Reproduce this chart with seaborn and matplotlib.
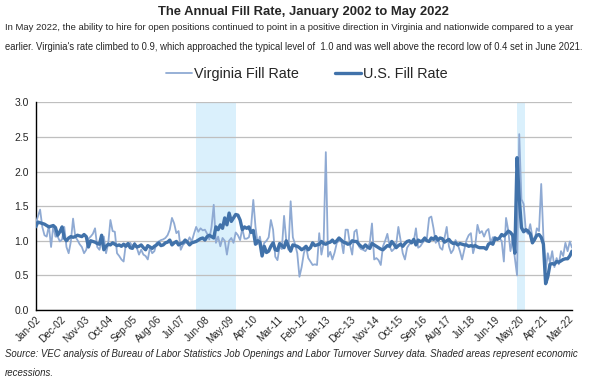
import numpy as np
import pandas as pd
import matplotlib
matplotlib.use("Agg")
import matplotlib.pyplot as plt
import seaborn as sns

# ---- data (monthly, Jan 2002 .. May 2022) ----
months = pd.date_range("2002-01-01", "2022-05-01", freq="MS")
month_labels = [d.strftime("%b-%y") for d in months]

us_rate = [
    # 2002
    1.20, 1.27, 1.26, 1.25, 1.24, 1.22, 1.20, 1.21, 1.22, 1.19, 1.08, 1.13,
    # 2003
    1.20, 1.04, 1.00, 1.04, 1.06, 1.05, 1.06, 1.08, 1.07, 1.06, 1.09, 1.06,
    # 2004
    0.91, 1.00, 0.99, 0.98, 0.96, 0.95, 1.08, 0.87, 0.92, 0.95, 0.94, 0.97,
    # 2005
    0.95, 0.93, 0.94, 0.92, 0.95, 0.92, 0.96, 0.90, 0.89, 0.95, 0.91, 0.92,
    # 2006
    0.94, 0.90, 0.87, 0.93, 0.91, 0.89, 0.92, 0.94, 0.97, 0.93, 0.94, 0.97,
    # 2007
    0.98, 1.01, 0.94, 0.97, 0.99, 0.94, 0.96, 0.97, 1.01, 0.98, 0.94, 0.97,
    # 2008
    0.98, 0.99, 1.01, 1.03, 1.04, 1.01, 1.06, 1.08, 1.06, 1.04, 1.20, 1.16,
    # 2009
    1.23, 1.18, 1.33, 1.23, 1.40, 1.28, 1.33, 1.38, 1.37, 1.30, 1.16, 1.20,
    # 2010
    1.18, 1.20, 1.12, 1.15, 0.95, 1.00, 0.98, 0.78, 0.92, 0.83, 0.85, 0.92,
    # 2011
    0.97, 0.87, 0.86, 0.96, 0.93, 0.90, 1.00, 0.92, 0.85, 0.94, 0.93, 0.92,
    # 2012
    0.90, 0.87, 0.89, 0.92, 0.87, 0.90, 0.97, 0.93, 0.94, 0.95, 0.99, 0.96,
    # 2013
    0.95, 0.97, 0.98, 1.01, 0.97, 1.00, 1.04, 1.01, 0.98, 0.97, 0.95, 0.96,
    # 2014
    1.00, 0.99, 0.99, 0.95, 0.92, 0.90, 0.94, 0.91, 0.89, 0.96, 0.94, 0.92,
    # 2015
    0.90, 0.88, 0.87, 0.90, 0.93, 0.92, 0.99, 0.95, 0.90, 0.93, 0.95, 0.92,
    # 2016
    0.96, 0.99, 1.00, 0.97, 1.02, 0.94, 1.01, 0.99, 1.00, 1.04, 1.00, 0.99,
    # 2017
    1.04, 1.02, 1.06, 1.01, 1.04, 1.03, 0.98, 1.00, 1.02, 0.98, 0.96, 0.97,
    # 2018
    0.94, 0.96, 0.95, 0.94, 0.94, 0.92, 0.93, 0.92, 0.93, 0.91, 0.90, 0.90,
    # 2019
    0.90, 0.88, 0.95, 0.97, 0.95, 1.04, 1.02, 1.04, 1.09, 1.07, 1.10, 1.14,
    # 2020
    1.12, 1.08, 0.82, 2.20, 1.62, 1.19, 1.13, 1.16, 1.14, 1.10, 0.97, 1.02,
    # 2021
    1.08, 1.09, 1.05, 0.95, 0.38, 0.48, 0.66, 0.67, 0.66, 0.70, 0.69, 0.71,
    # 2022
    0.73, 0.74, 0.74, 0.78, 0.85,
]

va_rate = [
    # 2002
    1.25, 1.35, 1.45, 1.20, 1.08, 1.06, 1.22, 0.91, 1.22, 1.06, 1.06, 0.99,
    # 2003
    1.02, 1.20, 0.91, 0.82, 0.99, 1.32, 1.06, 1.01, 0.95, 0.91, 0.82, 0.87,
    # 2004
    1.03, 1.06, 1.10, 1.18, 0.91, 0.87, 0.99, 1.06, 0.82, 0.96, 1.30, 1.14,
    # 2005
    1.13, 0.82, 0.78, 0.73, 0.70, 0.95, 0.92, 0.97, 0.92, 0.97, 0.90, 0.80,
    # 2006
    0.87, 0.80, 0.78, 0.73, 0.90, 0.82, 0.85, 0.97, 0.99, 1.01, 1.02, 1.04,
    # 2007
    1.08, 1.16, 1.33, 1.25, 1.11, 1.14, 0.87, 0.94, 0.97, 0.98, 1.05, 0.99,
    # 2008
    1.10, 1.20, 1.13, 1.18, 1.15, 1.16, 1.10, 1.02, 1.20, 1.52, 0.97, 1.06,
    # 2009
    0.92, 1.04, 1.00, 0.80, 1.00, 1.04, 0.97, 1.12, 1.08, 1.01, 1.18, 1.03,
    # 2010
    1.03, 1.05, 1.20, 1.59, 1.20, 0.95, 1.06, 0.87, 0.97, 1.00, 1.05, 1.30,
    # 2011
    1.16, 0.77, 0.72, 0.92, 0.88, 1.36, 1.00, 0.87, 1.57, 1.05, 0.95, 0.82,
    # 2012
    0.48, 0.62, 0.82, 0.92, 0.75, 0.70, 0.65, 0.66, 0.65, 1.11, 0.80, 0.97,
    # 2013
    2.28, 0.77, 0.84, 0.73, 0.83, 0.97, 1.00, 1.01, 0.82, 1.16, 1.16, 0.94,
    # 2014
    0.80, 1.13, 1.16, 0.92, 0.88, 0.87, 0.85, 0.90, 0.97, 1.25, 0.73, 0.75,
    # 2015
    0.72, 0.65, 0.92, 1.00, 1.10, 0.92, 0.85, 0.88, 0.94, 1.20, 1.01, 0.82,
    # 2016
    0.73, 0.90, 0.95, 0.97, 0.99, 1.18, 0.90, 0.92, 0.97, 1.01, 1.04, 1.33,
    # 2017
    1.35, 1.18, 0.97, 1.02, 0.90, 0.87, 1.04, 1.20, 0.92, 0.82, 0.87, 1.01,
    # 2018
    0.95, 0.85, 0.73, 0.87, 1.01, 1.08, 1.11, 0.82, 0.94, 1.23, 1.11, 1.14,
    # 2019
    1.06, 1.14, 1.17, 0.97, 1.05, 1.05, 1.02, 1.03, 1.00, 0.70, 1.33, 1.15,
    # 2020
    0.85, 1.04, 0.75, 0.50, 2.54, 1.60, 1.53, 1.14, 1.10, 1.24, 1.05, 1.00,
    # 2021
    1.18, 1.14, 1.82, 1.05, 0.56, 0.82, 0.68, 0.85, 0.62, 0.75, 0.66, 0.85,
    # 2022
    0.78, 0.97, 0.85, 0.99, 0.90,
]

# recession shading (in month-index units, as drawn)
recessions = [(72.9, 91.0), (218.8, 222.5)]

title = "The Annual Fill Rate, January 2002 to May 2022"
subtitle1 = ("In May 2022, the ability to hire for open positions continued to point in a positive "
             "direction in Virginia and nationwide compared to a year")
subtitle2 = ("earlier. Virginia's rate climbed to 0.9, which approached the typical level of  1.0 "
             "and was well above the record low of 0.4 set in June 2021.")
source1 = ("Source: VEC analysis of Bureau of Labor Statistics Job Openings and Labor Turnover "
           "Survey data. Shaded areas represent economic")
source2 = "recessions."

# ---- build frame ----
df = pd.DataFrame({
    "idx": np.arange(len(months)),
    "Virginia Fill Rate": va_rate,
    "U.S. Fill Rate": us_rate,
})

sns.set_theme(style="white")
FONT = ["Liberation Sans", "DejaVu Sans"]
plt.rcParams["font.family"] = FONT

VA_COLOR = "#8FAAD3"
US_COLOR = "#4172AA"
SHADE = "#DAF0FC"

fig = plt.figure(figsize=(6.04, 3.83), dpi=100)
ax = fig.add_axes([0.0591, 0.1906, 0.8879, 0.5423])

for a, b in recessions:
    ax.axvspan(a, b, color=SHADE, lw=0, zorder=0)

sns.lineplot(data=df, x="idx", y="Virginia Fill Rate", ax=ax, color=VA_COLOR,
             lw=1.3, label="Virginia Fill Rate", zorder=3)
sns.lineplot(data=df, x="idx", y="U.S. Fill Rate", ax=ax, color=US_COLOR,
             lw=2.4, label="U.S. Fill Rate", zorder=4)

ax.set_xlim(0, len(months) - 1)
ax.set_ylim(0, 3.0)
yt = np.arange(0, 3.01, 0.5)
ax.set_yticks(yt)
ax.set_yticklabels([f"{v:.1f}" for v in yt], fontsize=7.5)
tick_pos = list(range(0, len(months), 11))
ax.set_xticks(tick_pos)
ax.set_xticklabels([month_labels[i] for i in tick_pos], rotation=45, ha="right",
                   rotation_mode="anchor", fontsize=7.2)
ax.tick_params(axis="x", length=0, pad=3)
ax.tick_params(axis="y", length=0, pad=5)
ax.set_xlabel("")
ax.set_ylabel("")
ax.grid(axis="y", color="#BFBFBF", lw=0.9, zorder=1)
ax.set_axisbelow(True)
for s in ["top", "right"]:
    ax.spines[s].set_visible(False)
for s in ["left", "bottom"]:
    ax.spines[s].set_color("black")
    ax.spines[s].set_linewidth(1.0)

leg = ax.legend(loc="center", bbox_to_anchor=(0.505, 1.136), ncol=2, frameon=False,
                fontsize=10.4, handlelength=1.85, columnspacing=2.5, handletextpad=0.1)

fig.text(0.503, 0.968, title, ha="center", va="center", fontsize=9.4, fontweight="bold")
fig.text(0.008, 0.928, subtitle1, ha="left", va="center", fontsize=6.8)
fig.text(0.008, 0.877, subtitle2, ha="left", va="center", fontsize=6.85)
fig.text(0.008, 0.075, source1, ha="left", va="center", fontsize=6.95, style="italic")
fig.text(0.008, 0.025, source2, ha="left", va="center", fontsize=6.95, style="italic")

fig.savefig("out.png", dpi=100)
